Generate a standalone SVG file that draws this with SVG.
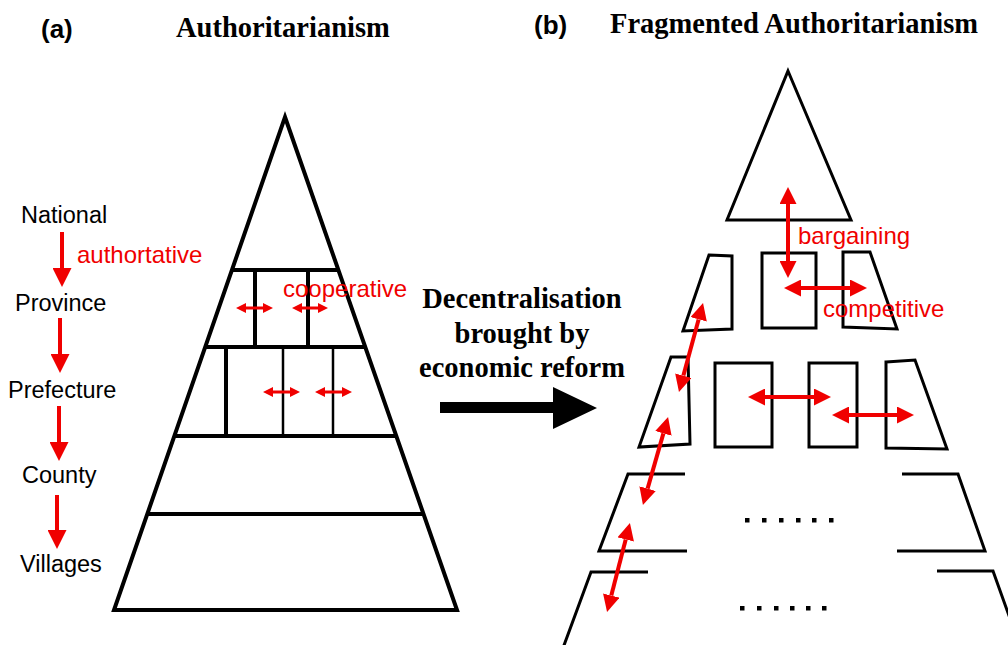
<svg xmlns="http://www.w3.org/2000/svg" width="1008" height="645" viewBox="0 0 1008 645">
<style>
.title{font-family:"Liberation Serif","Times New Roman",serif;font-weight:bold;font-size:28.5px;fill:#000}
.tag{font-family:"Liberation Sans",Arial,sans-serif;font-weight:bold;font-size:26px;fill:#000}
.lbl{font-family:"Liberation Sans",Arial,sans-serif;font-size:23.5px;fill:#000}
.red{font-family:"Liberation Sans",Arial,sans-serif;font-size:24px;fill:#f00000}
.thick{fill:none;stroke:#000;stroke-width:4;stroke-linejoin:miter}
.med{fill:none;stroke:#000;stroke-width:3;stroke-linejoin:miter}
.thin{fill:none;stroke:#000;stroke-width:2.5}
.arr{fill:none;stroke:#f00000;stroke-width:4}
.arrs{fill:none;stroke:#f00000;stroke-width:3}
</style>
<defs>
<marker id="hb" markerUnits="userSpaceOnUse" markerWidth="17" markerHeight="17" viewBox="0 0 17 17" refX="0" refY="8.5" orient="auto-start-reverse"><path d="M0,0 L17,8.5 L0,17 z" fill="#f00000"/></marker>
<marker id="hd" markerUnits="userSpaceOnUse" markerWidth="19" markerHeight="19" viewBox="0 0 19 19" refX="0" refY="9.5" orient="auto-start-reverse"><path d="M0,0 L19,9.5 L0,19 z" fill="#f00000"/></marker>
<marker id="hs" markerUnits="userSpaceOnUse" markerWidth="10" markerHeight="10" viewBox="0 0 10 10" refX="0" refY="5" orient="auto-start-reverse"><path d="M0,0 L10,5 L0,10 z" fill="#f00000"/></marker>
</defs>
<rect width="1008" height="645" fill="#fff"/>

<g id="titles">
<text class="tag" x="41" y="38">(a)</text>
<text class="title" x="176" y="37">Authoritarianism</text>
<text class="tag" x="534" y="34">(b)</text>
<text class="title" x="610" y="33">Fragmented Authoritarianism</text>
</g>

<g id="levels">
<text class="lbl" x="21" y="223">National</text>
<text class="lbl" x="15" y="311">Province</text>
<text class="lbl" x="8" y="398">Prefecture</text>
<text class="lbl" x="22" y="483">County</text>
<text class="lbl" x="20" y="572">Villages</text>
<text class="red" x="77" y="263">authortative</text>
</g>

<g id="pyramid-a">
<polygon class="thick" points="285,117 457,610 114,610"/>
<line class="thick" x1="232" y1="270" x2="338" y2="270"/>
<line class="thick" x1="205" y1="347" x2="365" y2="347"/>
<line class="thick" x1="174" y1="436" x2="396" y2="436"/>
<line class="thick" x1="147" y1="514" x2="424" y2="514"/>
<line class="thick" x1="255" y1="270" x2="255" y2="347"/>
<line class="thick" x1="308" y1="270" x2="308" y2="347"/>
<line class="thick" x1="226" y1="347" x2="226" y2="436"/>
<line class="thin" x1="283" y1="347" x2="283" y2="436"/>
<line class="thin" x1="333" y1="347" x2="333" y2="436"/>
<text class="red" x="283" y="297">cooperative</text>
</g>

<g id="transition">
<text class="title" text-anchor="middle" x="522" y="308">Decentralisation</text>
<text class="title" text-anchor="middle" x="522" y="343">brought by</text>
<text class="title" text-anchor="middle" x="522" y="377">economic reform</text>
<polygon points="440,402 553,402 553,387 597,408 553,429 553,413 440,413" fill="#000"/>
</g>

<g id="pyramid-b">
<g id="top"><polygon class="med" points="788,71 851,220 727,220"/></g>
<g id="row1">
<polygon class="med" points="709,255 732,256 732,329 683,331"/>
<rect class="med" x="762" y="253" width="54" height="75"/>
<polygon class="med" points="843,252 870,252 897,329 843,327"/>
</g>
<g id="row2">
<polygon class="med" points="671,357 688,357 690,444 639,447"/>
<rect class="med" x="715" y="363" width="57" height="84"/>
<rect class="med" x="809" y="363" width="48" height="84"/>
<polygon class="med" points="886,362 915,360 947,449 886,448"/>
</g>
<g id="row3">
<polyline class="med" points="685,474 628,474 599,551 687,551"/>
<polyline class="med" points="902,474 958,474 985,551 897,551"/>
<g fill="#000">
<rect x="745" y="518" width="4.5" height="4.5"/><rect x="762" y="518" width="4.5" height="4.5"/><rect x="779" y="518" width="4.5" height="4.5"/><rect x="796" y="518" width="4.5" height="4.5"/><rect x="812" y="518" width="4.5" height="4.5"/><rect x="829" y="518" width="4.5" height="4.5"/>
</g>
</g>
<g id="row4">
<polyline class="med" points="648,572 591,572 563,648"/>
<polyline class="med" points="937,571 993,571 1012,624"/>
<g fill="#000">
<rect x="740" y="606" width="4.5" height="4.5"/><rect x="757" y="606" width="4.5" height="4.5"/><rect x="774" y="606" width="4.5" height="4.5"/><rect x="790" y="606" width="4.5" height="4.5"/><rect x="806" y="606" width="4.5" height="4.5"/><rect x="822" y="606" width="4.5" height="4.5"/>
</g>
</g>
<text class="red" x="798" y="244">bargaining</text>
<text class="red" x="823" y="317">competitive</text>
</g>

<g id="connectors">
<line class="arr" x1="62" y1="232" x2="62" y2="268" marker-end="url(#hd)"/>
<line class="arr" x1="60" y1="318" x2="60" y2="354" marker-end="url(#hd)"/>
<line class="arr" x1="59" y1="406" x2="59" y2="442" marker-end="url(#hd)"/>
<line class="arr" x1="57" y1="495" x2="57" y2="530" marker-end="url(#hd)"/>
<line class="arrs" x1="246" y1="308" x2="263" y2="308" marker-start="url(#hs)" marker-end="url(#hs)"/>
<line class="arrs" x1="302" y1="308" x2="318" y2="308" marker-start="url(#hs)" marker-end="url(#hs)"/>
<line class="arrs" x1="273" y1="392" x2="290" y2="392" marker-start="url(#hs)" marker-end="url(#hs)"/>
<line class="arrs" x1="325" y1="392" x2="342" y2="392" marker-start="url(#hs)" marker-end="url(#hs)"/>
<line class="arr" x1="788" y1="204" x2="788" y2="261" marker-start="url(#hb)" marker-end="url(#hb)"/>
<line class="arr" x1="801" y1="288" x2="850" y2="288" marker-start="url(#hb)" marker-end="url(#hb)"/>
<line class="arr" x1="765" y1="397" x2="814" y2="397" marker-start="url(#hb)" marker-end="url(#hb)"/>
<line class="arr" x1="849" y1="415" x2="897" y2="415" marker-start="url(#hb)" marker-end="url(#hb)"/>
<line class="arr" x1="698.6" y1="319.4" x2="683.4" y2="375.6" marker-start="url(#hb)" marker-end="url(#hb)"/>
<line class="arr" x1="663.4" y1="433.4" x2="647.6" y2="488.6" marker-start="url(#hb)" marker-end="url(#hb)"/>
<line class="arr" x1="625.7" y1="539.5" x2="611.3" y2="595.5" marker-start="url(#hb)" marker-end="url(#hb)"/>
</g>
</svg>
